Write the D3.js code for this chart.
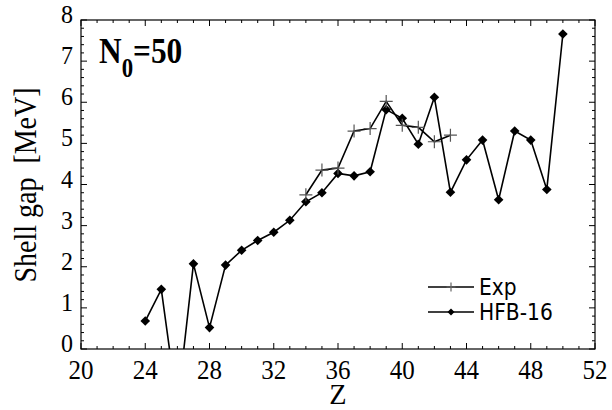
<!DOCTYPE html>
<html><head><meta charset="utf-8">
<script src="https://cdn.jsdelivr.net/npm/d3@7/dist/d3.min.js"></script>
<style>body{margin:0;background:#fff}svg{display:block}</style>
</head><body><svg id="c" width="612" height="410"></svg>
<script>
const expZ = [34,35,36,37,38,39,40,41,42,43];
const expGap = [3.75,4.35,4.40,5.30,5.36,6.02,5.44,5.39,5.04,5.20];
const hfbZ = [24,25,26,27,28,29,30,31,32,33,34,35,36,37,38,39,40,41,42,43,44,45,46,47,48,49,50];
const hfbGap = [0.68,1.45,-1.4,2.07,0.52,2.04,2.40,2.64,2.84,3.13,3.58,3.80,4.27,4.21,4.31,5.82,5.61,4.98,6.12,3.81,4.60,5.08,3.63,5.30,5.08,3.88,7.66];
const xTicks = [20,24,28,32,36,40,44,48,52];
const yTicks = [0,1,2,3,4,5,6,7,8];
const seriesNames = ["Exp","HFB-16"];

const svg = d3.select("#c");
const L=81,R=595,T=20,B=349;
const x = d3.scaleLinear().domain([20,52]).range([L,R]);
const y = d3.scaleLinear().domain([0,8]).range([B,T]);
const serif = "'Liberation Serif','Times New Roman',serif";
const sans = "'DejaVu Sans','Liberation Sans',sans-serif";

svg.append("defs").append("clipPath").attr("id","clip")
  .append("rect").attr("x",L).attr("y",T).attr("width",R-L).attr("height",B-T);

svg.append("rect").attr("x",L).attr("y",T).attr("width",R-L).attr("height",B-T)
  .attr("fill","none").attr("stroke","#000").attr("stroke-width",1.2);

const g = svg.append("g").attr("stroke","#000").attr("stroke-width",1);
d3.range(20,53,1).forEach(v=>{
  const len = v%4===0?6:3;
  g.append("line").attr("x1",x(v)).attr("x2",x(v)).attr("y1",B).attr("y2",B-len);
  g.append("line").attr("x1",x(v)).attr("x2",x(v)).attr("y1",T).attr("y2",T+len);
});
d3.range(0,40.5,1).forEach(i=>{
  const v=i*0.2; const len = i%5===0?6:3;
  g.append("line").attr("y1",y(v)).attr("y2",y(v)).attr("x1",L).attr("x2",L+len);
  g.append("line").attr("y1",y(v)).attr("y2",y(v)).attr("x1",R).attr("x2",R-len);
});

svg.append("g").selectAll("text").data(xTicks).join("text")
  .attr("transform",d=>`translate(${x(d)},379) scale(1,1.05)`)
  .attr("text-anchor","middle").attr("font-family",serif).attr("font-size",25)
  .text(d=>d);
svg.append("g").selectAll("text").data(yTicks).join("text")
  .attr("transform",d=>`translate(73,${y(d)+3}) scale(1,1.08)`)
  .attr("text-anchor","end").attr("font-family",serif).attr("font-size",24)
  .text(d=>d);

svg.append("text").attr("transform","translate(338,404) scale(1.05,1.12)")
  .attr("text-anchor","middle").attr("font-family",serif).attr("font-size",27).text("Z");
svg.append("text").attr("transform","translate(36,185) rotate(-90) scale(1,1.15)")
  .attr("text-anchor","middle").attr("font-family",serif).attr("font-size",28)
  .attr("xml:space","preserve").text("Shell gap  [MeV]");

const t = svg.append("text").attr("transform","translate(99,63) scale(0.95,1.1)")
  .attr("font-family",serif).attr("font-size",33).attr("font-weight","bold");
t.append("tspan").text("N");
t.append("tspan").attr("font-size",24).attr("dy",13).text("0");
t.append("tspan").attr("dy",-13).text("=50");

const line = d3.line().x(d=>x(d[0])).y(d=>y(d[1]));
const plot = svg.append("g").attr("clip-path","url(#clip)");
const hfb = hfbZ.map((z,i)=>[z,hfbGap[i]]);
const exp = expZ.map((z,i)=>[z,expGap[i]]);
plot.append("path").attr("d",line(exp)).attr("fill","none").attr("stroke","#000").attr("stroke-width",1.6);
plot.append("path").attr("d",line(hfb)).attr("fill","none").attr("stroke","#000").attr("stroke-width",1.6);

const diamond = (cx,cy,r)=>`M${cx},${cy-r}L${cx+r},${cy}L${cx},${cy+r}L${cx-r},${cy}Z`;
plot.selectAll(".dm").data(hfb).join("path").attr("class","dm")
  .attr("d",d=>diamond(x(d[0]),y(d[1]),4.8)).attr("fill","#000");
const plus = (cx,cy,r)=>`M${cx-r},${cy}H${cx+r}M${cx},${cy-r}V${cy+r}`;
plot.selectAll(".pl").data(exp).join("path").attr("class","pl")
  .attr("d",d=>plus(x(d[0]),y(d[1]),6.5)).attr("stroke","#555").attr("stroke-width",1.2).attr("fill","none");

const lg = svg.append("g");
[0,1].forEach(i=>{
  const yy = 287+i*25;
  lg.append("line").attr("x1",428).attr("x2",474).attr("y1",yy).attr("y2",yy).attr("stroke","#000").attr("stroke-width",1.4);
  if(i===0) lg.append("path").attr("d",plus(451,yy,4.5)).attr("stroke","#666").attr("stroke-width",1.2);
  else lg.append("path").attr("d",diamond(451,yy,3.5)).attr("fill","#000");
  lg.append("text").attr("transform",`translate(479,${yy+8}) scale(0.92,1.05)`).attr("font-family",sans).attr("font-size",22).text(seriesNames[i]);
});
</script></body></html>
